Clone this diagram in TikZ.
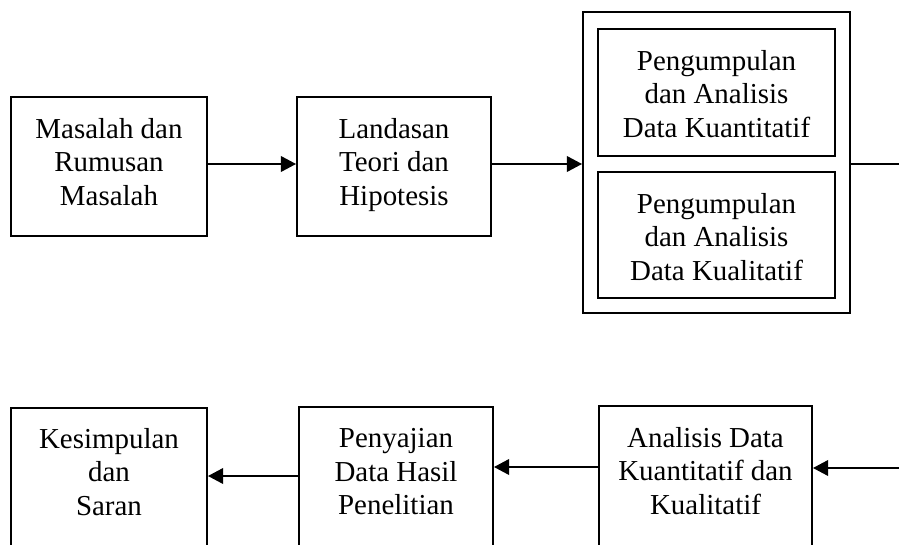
\documentclass[tikz,border=0pt]{standalone}
\usepackage{fontspec}
\setmainfont{Liberation Serif}
\usetikzlibrary{arrows.meta,fit,calc}
\begin{document}
\begin{tikzpicture}[x=0.75pt,y=-0.75pt,
  box/.style={draw=black,line width=1.3pt,inner sep=0pt,fill=none},
  lbl/.style={anchor=north,align=center,inner sep=0pt,font=\fontsize{21.7pt}{25.1pt}\selectfont},
  conn/.style={draw=black,line width=2.2pt},
  arr/.style={conn,-{Triangle[length=11.5pt,width=11.5pt]}}]
\useasboundingbox (0,0) rectangle (899,545);
\clip (0,0) rectangle (899,545);
% top row
\node[box,fit={(11,97) (207,236)}] (b1) {};
\node[box,fit={(297,97) (491,236)}] (b2) {};
\node[box,fit={(583,12) (850,313)}] (outer) {};
\node[box,fit={(598,29) (835,156)}] (in1) {};
\node[box,fit={(598,172) (835,298)}] (in2) {};
\node[lbl] (t1) at ($(b1.north)+(0,22)$) {Masalah dan\\Rumusan\\Masalah};
\node[lbl] (t2) at ($(b2.north)+(0,22)$) {Landasan\\Teori dan\\Hipotesis};
\node[lbl] (t3) at ($(in1.north)+(0,22)$) {Pengumpulan\\dan Analisis\\Data Kuantitatif};
\node[lbl] (t4) at ($(in2.north)+(0,22)$) {Pengumpulan\\dan Analisis\\Data Kualitatif};
% bottom row
\node[box,fit={(11,408) (207,570)}] (b4) {};
\node[box,fit={(299,407) (493,570)}] (b5) {};
\node[box,fit={(599,406) (812,570)}] (b6) {};
\node[lbl] (t6) at ($(b4.north)+(0,21)$) {Kesimpulan\\dan\\Saran};
\node[lbl] (t5) at ($(b5.north)+(0,22)$) {Penyajian\\Data Hasil\\Penelitian};
\node[lbl] (t7) at ($(b6.north)+(0,22)$) {Analisis Data\\Kuantitatif dan\\Kualitatif};
% connector levels
\coordinate (ytop) at (0,164);
\coordinate (ybot1) at (0,476);
\coordinate (ybot2) at (0,467);
\coordinate (ybot3) at (0,468);
\coordinate (edgeTop) at (900,164);
\coordinate (edgeBot) at (900,468);
% connectors
\draw[arr] (b1.east |- ytop) -- (b2.west |- ytop);
\draw[arr] (b2.east |- ytop) -- (outer.west |- ytop);
\draw[conn] (outer.east |- ytop) -- (edgeTop);
\draw[arr] (edgeBot) -- (b6.east |- ybot3);
\draw[arr] (b6.west |- ybot2) -- (b5.east |- ybot2);
\draw[arr] (b5.west |- ybot1) -- (b4.east |- ybot1);
\end{tikzpicture}
\end{document}
